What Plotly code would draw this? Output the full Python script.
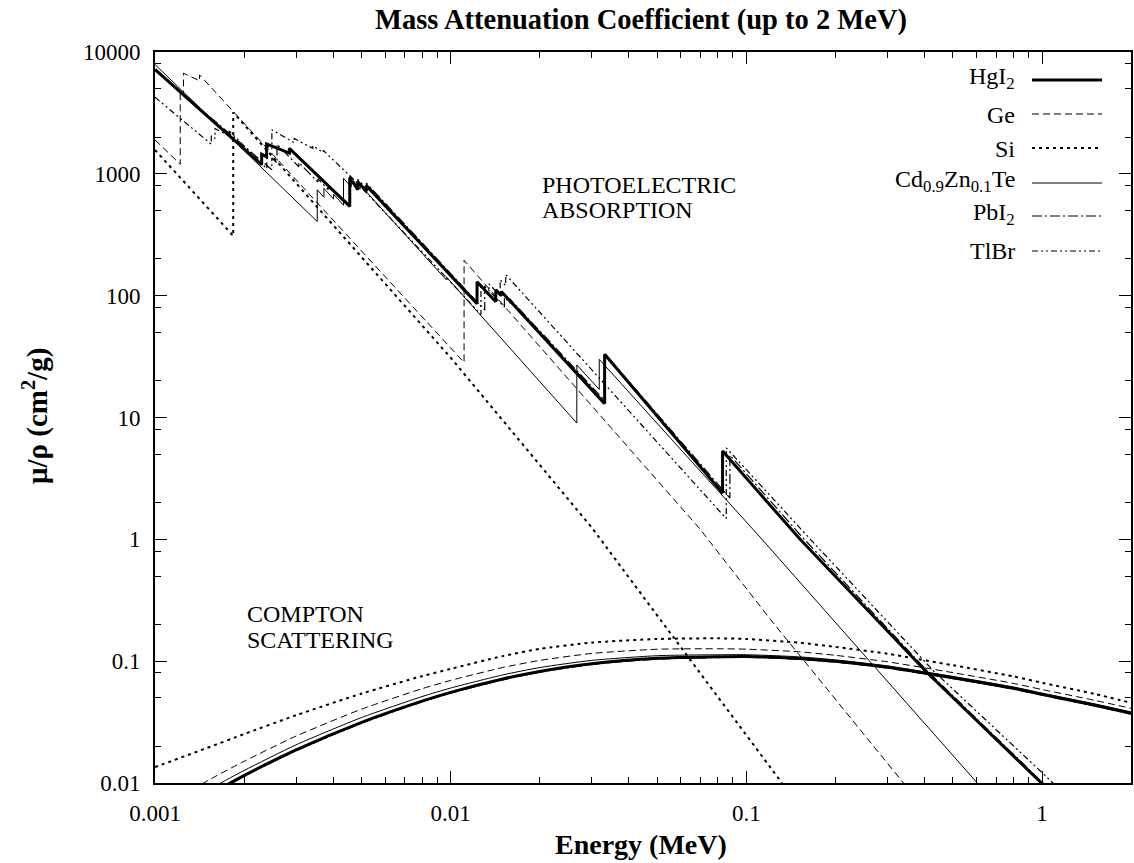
import plotly.graph_objects as go
import math

FONT = "Liberation Serif, Times New Roman, serif"

# ---------------- data ----------------
# Photoelectric absorption (MeV, cm2/g); repeated energies = absorption edges
HgI2_E = [0.001, 0.002295, 0.002295, 0.002385, 0.002385, 0.002847, 0.002847, 0.004557, 0.004557,
          0.004852, 0.004852, 0.005188, 0.005188, 0.01228, 0.01228, 0.01421, 0.01421, 0.01484, 0.01484,
          0.03317, 0.03317, 0.0831, 0.0831, 0.152, 0.41, 1.0]
HgI2_mu = [7200, 1190, 1450, 1380, 1760, 1480, 1620, 540, 930,
           740, 860, 720, 800, 86, 130, 89, 112, 100, 108,
           13, 33, 2.4, 5.3, 1.0, 0.08, 0.0099]

Ge_E = [0.001, 0.001217, 0.001217, 0.001248, 0.001248, 0.001414, 0.001414, 0.0111, 0.0111,
        0.0698, 0.1205, 0.34]
Ge_mu = [1900, 1200, 4700, 4400, 6700, 5800, 6500, 28.3, 195,
         1.21, 0.221, 0.01]

Si_E = [0.001, 0.001839, 0.001839, 0.01, 0.03, 0.0698, 0.132]
Si_mu = [1570, 310, 3200, 31, 1.25, 0.08, 0.01]

CZT_E = [0.001, 0.003538, 0.003538, 0.003727, 0.003727, 0.004018, 0.004018, 0.004341, 0.004341,
         0.004612, 0.004612, 0.004939, 0.004939, 0.009659, 0.009659, 0.02671, 0.02671, 0.03181, 0.03181,
         0.113, 0.604]
CZT_mu = [7900, 406, 740, 642, 760, 620, 680, 552, 920,
          781, 900, 748, 810, 135, 143, 9, 27, 17, 30,
          1.0, 0.01]

PbI2_E = [0.001, 0.002484, 0.002484, 0.002586, 0.002586, 0.003066, 0.003066, 0.003554, 0.003554,
          0.003851, 0.003851, 0.004557, 0.004557, 0.004852, 0.004852, 0.005188, 0.005188, 0.01304, 0.01304,
          0.0152, 0.0152, 0.01586, 0.01586, 0.03317, 0.03317, 0.088, 0.088, 0.152, 0.41, 1.0, 1.05]
PbI2_mu = [7100, 1080, 1350, 1230, 1750, 1143, 1240, 857, 910,
           744, 775, 560, 960, 790, 900, 760, 840, 76, 120,
           80.5, 97, 87, 94, 13.8, 33.5, 2.18, 4.9, 1.09, 0.0826, 0.0102, 0.0091]

TlBr_E = [0.001, 0.00155, 0.00155, 0.001596, 0.001596, 0.001782, 0.001782, 0.002389, 0.002389,
          0.002485, 0.002485, 0.002957, 0.002957, 0.003416, 0.003416, 0.003704, 0.003704, 0.0047, 0.0092,
          0.01266, 0.01266, 0.01347, 0.01347, 0.0147, 0.0147, 0.01535, 0.01535, 0.08553, 0.08553,
          0.1647, 0.43, 1.09]
TlBr_mu = [4250, 1750, 2050, 1950, 2350, 2050, 2250, 1100, 1700,
           1600, 2300, 1800, 1950, 1620, 1700, 1500, 1560, 900, 160,
           70, 120, 102, 125, 100, 135, 121, 149, 1.48, 5.64,
           1.0, 0.083, 0.01]

# Compton scattering
Compton_E = [0.001, 0.0015, 0.002, 0.003, 0.005, 0.008, 0.01, 0.015, 0.02, 0.03, 0.05,
             0.08, 0.1, 0.15, 0.2, 0.3, 0.5, 0.8, 1.0, 1.5, 2.0]
Si_C = [0.0135, 0.0194, 0.0252, 0.0360, 0.0542, 0.0753, 0.0865, 0.1100, 0.1260, 0.1420, 0.1520,
        0.1540, 0.1520, 0.1420, 0.1310, 0.1150, 0.0925, 0.0750, 0.0665, 0.0540, 0.0455]
Ge_C = [0.00571, 0.01039, 0.01505, 0.02427, 0.0404, 0.0594, 0.0695, 0.0887, 0.1014, 0.1157, 0.1253,
        0.1264, 0.1254, 0.1195, 0.1117, 0.0988, 0.0805, 0.0657, 0.0585, 0.0478, 0.0410]
CZT_C = [0.00472, 0.00866, 0.01265, 0.02057, 0.0345, 0.0512, 0.0602, 0.0771, 0.0886, 0.1015, 0.1109,
         0.1129, 0.1130, 0.1086, 0.1025, 0.0915, 0.0749, 0.0614, 0.0547, 0.0447, 0.0383]
HgI2_C = [0.00425, 0.0078, 0.0115, 0.0187, 0.0315, 0.0470, 0.0555, 0.0714, 0.0824, 0.0953, 0.1056,
          0.1086, 0.1092, 0.1054, 0.0997, 0.0892, 0.0731, 0.0599, 0.0534, 0.0436, 0.0374]
PbI2_C = [0.00419, 0.00768, 0.01133, 0.0184, 0.0310, 0.0463, 0.0547, 0.0703, 0.0812, 0.0939, 0.1040,
          0.1070, 0.1076, 0.1038, 0.0982, 0.0879, 0.0720, 0.0590, 0.0526, 0.0429, 0.0368]
TlBr_C = [0.00421, 0.0077, 0.0114, 0.0185, 0.0312, 0.0466, 0.0550, 0.0707, 0.0816, 0.0944, 0.1045,
          0.1075, 0.1081, 0.1044, 0.0987, 0.0884, 0.0724, 0.0594, 0.0529, 0.0432, 0.0370]

materials = ["HgI2", "Ge", "Si", "CZT", "PbI2", "TlBr"]
labels = ["HgI<sub>2</sub>", "Ge", "Si", "Cd<sub>0.9</sub>Zn<sub>0.1</sub>Te", "PbI<sub>2</sub>", "TlBr"]
photo = {"HgI2": (HgI2_E, HgI2_mu), "Ge": (Ge_E, Ge_mu), "Si": (Si_E, Si_mu),
         "CZT": (CZT_E, CZT_mu), "PbI2": (PbI2_E, PbI2_mu), "TlBr": (TlBr_E, TlBr_mu)}
compton = {"HgI2": HgI2_C, "Ge": Ge_C, "Si": Si_C, "CZT": CZT_C, "PbI2": PbI2_C, "TlBr": TlBr_C}

styles = {
    "HgI2": dict(color="black", width=3, dash="solid"),
    "Ge": dict(color="black", width=1, dash="7px,4px"),
    "Si": dict(color="black", width=2, dash="3px,4px"),
    "CZT": dict(color="black", width=1, dash="solid"),
    "PbI2": dict(color="black", width=1.2, dash="10px,3px,2px,3px"),
    "TlBr": dict(color="black", width=1.2, dash="6px,3px,2px,3px,2px,3px"),
}

x_major = [0.001, 0.01, 0.1, 1]
x_major_text = ["0.001", "0.01", "0.1", "1"]
y_major = [0.01, 0.1, 1, 10, 100, 1000, 10000]
y_major_text = ["0.01", "0.1", "1", "10", "100", "1000", "10000"]
x_minor = [m * d for d in [0.001, 0.01, 0.1] for m in range(2, 10)] + [2.0]
y_minor = [m * d for d in [0.01, 0.1, 1, 10, 100, 1000] for m in (2, 5, 8)]

fig = go.Figure()
draw_order = ["Si", "Ge", "CZT", "TlBr", "PbI2", "HgI2"]
for m in draw_order:
    lab = labels[materials.index(m)]
    e, mu = photo[m]
    fig.add_trace(go.Scatter(x=e, y=mu, mode="lines", line=styles[m], name=lab,
                             legendgroup=m, showlegend=False, hoverinfo="skip"))
    fig.add_trace(go.Scatter(x=Compton_E, y=compton[m], mode="lines",
                             line=dict(shape="spline", smoothing=0.6, **styles[m]), name=lab,
                             legendgroup=m, showlegend=False, hoverinfo="skip"))

# plot area in pixels (for placing text decorations)
L, R, T, B = 155, 1131, 52, 783
W, H = R - L, B - T
def px(xp):
    return (xp - L) / W
def py(yp):
    return (B - yp) / H

annotations = []
shapes = []
# custom legend: right-aligned text, line sample to the right
leg_text_y = [78, 115, 149, 181, 214, 251]
leg_line_y = [80, 114, 148, 183, 216, 251]
for i, m in enumerate(materials):
    annotations.append(dict(x=px(1017), y=py(leg_text_y[i]), xref="paper", yref="paper",
                            text=labels[i], showarrow=False, xanchor="right", yanchor="middle",
                            font=dict(family=FONT, size=24, color="black")))
    st = styles[m]
    shapes.append(dict(type="line", xref="paper", yref="paper", x0=px(1032), x1=px(1102),
                       y0=py(leg_line_y[i]), y1=py(leg_line_y[i]),
                       line=dict(color="black", width=st["width"], dash=st["dash"])))

for txt, xx, yy in [("PHOTOELECTRIC", 540, 185), ("ABSORPTION", 540, 210),
                    ("COMPTON", 245, 614), ("SCATTERING", 245, 640)]:
    annotations.append(dict(x=px(xx), y=py(yy), xref="paper", yref="paper", text=txt,
                            showarrow=False, xanchor="left", yanchor="middle",
                            font=dict(family=FONT, size=24, color="black")))

annotations.append(dict(x=px(641), y=py(845), xref="paper", yref="paper", text="<b>Energy (MeV)</b>",
                        showarrow=False, xanchor="center", yanchor="middle",
                        font=dict(family=FONT, size=28, color="black")))
annotations.append(dict(x=px(35), y=py(416), xref="paper", yref="paper",
                        text="<b>\u03bc/\u03c1 (cm<sup>2</sup>/g)</b>", textangle=-90,
                        showarrow=False, xanchor="center", yanchor="middle",
                        font=dict(family=FONT, size=29, color="black")))

axis_common = dict(type="log", showgrid=False, zeroline=False, showline=True, linewidth=2,
                   linecolor="black", mirror="allticks", ticks="inside", ticklen=12, tickwidth=1,
                   tickcolor="black", automargin=False,
                   tickfont=dict(family=FONT, size=23, color="black"))

fig.update_layout(
    width=1134, height=863,
    margin=dict(l=L, r=1134 - R, t=T, b=863 - B, autoexpand=False),
    paper_bgcolor="white", plot_bgcolor="white",
    title=dict(text="<b>Mass Attenuation Coefficient (up to 2 MeV)</b>", x=px(641), xref="paper",
               y=1 - 19 / 863, yanchor="middle", xanchor="center", automargin=False,
               font=dict(family=FONT, size=28.5, color="black")),
    xaxis=dict(range=[-3, math.log10(2)], tickmode="array", tickvals=x_major, ticktext=x_major_text,
               ticklabelstandoff=8,
               minor=dict(tickmode="array", tickvals=x_minor, ticks="inside", ticklen=6,
                          tickcolor="black", showgrid=False),
               **axis_common),
    yaxis=dict(range=[-2, 4], tickmode="array", tickvals=y_major, ticktext=y_major_text,
               ticklabelstandoff=8,
               minor=dict(tickmode="array", tickvals=y_minor, ticks="inside", ticklen=6,
                          tickcolor="black", showgrid=False),
               **axis_common),
    annotations=annotations, shapes=shapes, showlegend=False,
)

fig.write_html("out.html", config={"displayModeBar": False, "staticPlot": True},
               post_script="document.body.style.margin='0';document.body.style.overflow='hidden';")
